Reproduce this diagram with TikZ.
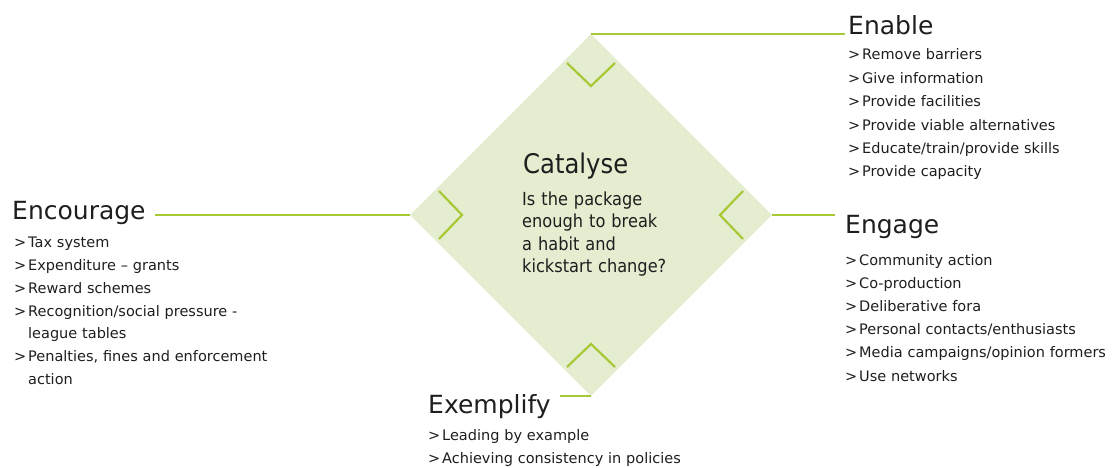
\documentclass[tikz,border=0pt]{standalone}
\usepackage{fontspec}
\setmainfont{DejaVu Sans}
\newfontfamily\narrowfont[FakeStretch=0.9]{DejaVu Sans}
\usetikzlibrary{shapes.geometric,calc}
\definecolor{leaf}{HTML}{A6C935}
\definecolor{pale}{HTML}{E4EDD0}
\definecolor{ink}{HTML}{1E1E1E}
% bullet with hanging indent
\newcommand\bul{\hangindent=14pt\hangafter=1\makebox[14pt][l]{>}}

\begin{document}
\begin{tikzpicture}[x=1pt,y=-1pt,
  link/.style={leaf,line width=2.2pt},
  chev/.style={leaf,line width=2.2pt},
  head/.style={anchor=base west,inner sep=0,text=ink,font=\fontsize{25}{28}\selectfont},
  list/.style={anchor=base west,inner sep=0,text=ink,text width=290,align=left,font=\fontsize{14.5}{23}\selectfont}]
\useasboundingbox (0,0) rectangle (1114,468);
% Raute in der Mitte
\node[diamond,fill=pale,minimum width=362,minimum height=362,inner sep=0] (cat) at (591,215) {};
\foreach \a in {0,90,180,270}
  \draw[chev] ($(cat.center)+(\a:152)+({\a+90}:24)$) -- ($(cat.center)+(\a:129)$) -- ($(cat.center)+(\a:152)+({\a-90}:24)$);
\node[head,font=\narrowfont\fontsize{27}{30}\selectfont] (cathead) at (523,173) {Catalyse};
\node[list,font=\narrowfont\fontsize{18}{22.5}\selectfont,text width=200] (catbody) at (522,205)
  {Is the package\\ enough to break\\ a habit and\\ kickstart change?};
% Encourage
\node[head] (enc) at (12,219) {Encourage};
\node[list] (enclist) at (14,247) {\bul Tax system\par \bul Expenditure – grants\par \bul Reward schemes\par
  \bul Recognition/social pressure -\newline league tables\par \bul Penalties, fines and enforcement\newline action\par};
% Enable
\node[head] (ena) at (848,35) {Enable};
\node[list,font=\fontsize{14.5}{23.4}\selectfont] (enalist) at (848,60) {\bul Remove barriers\par \bul Give information\par
  \bul Provide facilities\par \bul Provide viable alternatives\par \bul Educate/train/provide skills\par \bul Provide capacity};
% Engage
\node[head] (eng) at (845,233) {Engage};
\node[list,font=\fontsize{14.5}{23.2}\selectfont] (englist) at (845,265) {\bul Community action\par \bul Co-production\par
  \bul Deliberative fora\par \bul Personal contacts/enthusiasts\par \bul Media campaigns/opinion formers\par \bul Use networks};
% Exemplify
\node[head] (exe) at (428,413) {Exemplify};
\node[list] (exelist) at (428,440) {\bul Leading by example\par \bul Achieving consistency in policies};
% Verbindungslinien
\draw[link] (cat.west) -- ([xshift=9]cat.west -| enc.east);
\draw[link] (cat.north) -- ([xshift=-3]cat.north -| ena.west);
\draw[link] (cat.east) -- ([xshift=-10]cat.east -| eng.west);
\draw[link] (cat.south) -- ([xshift=9]cat.south -| exe.east);
\end{tikzpicture}
\end{document}
